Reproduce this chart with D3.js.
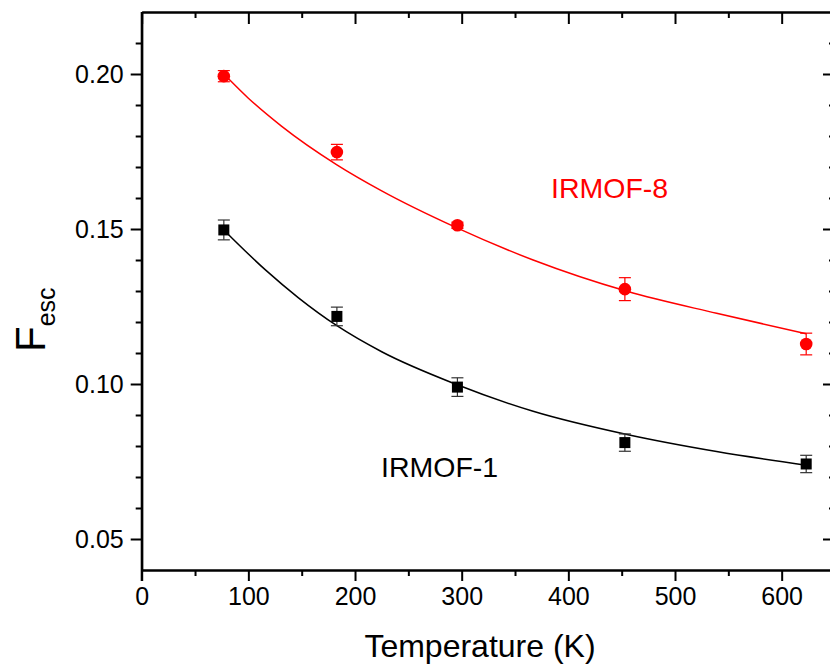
<!DOCTYPE html>
<meta charset="utf-8">
<style>
body { margin: 0; background: #fff; }
svg { font-family: 'Liberation Sans', Arial, sans-serif; }
.axis path, .axis line { stroke: #000; stroke-width: 2px; }
.axis text { font-size: 25px; fill: #000; }
</style>
<svg width="830" height="666"></svg>
<script src="https://d3js.org/d3.v7.min.js"></script>
<script>

// measured points (temperature in K, escape fraction, error)
var temps = [77, 183, 296, 453, 623];
var irmof8 = [0.1993, 0.1748, 0.1512, 0.1306, 0.1129];
var irmof8Err = [0.0018, 0.0025, 0.0010, 0.0037, 0.0035];
var irmof1 = [0.1497, 0.1218, 0.0990, 0.0811, 0.0742];
var irmof1Err = [0.0032, 0.0030, 0.0030, 0.0028, 0.0028];

// fitted curves
var fit8T = [77, 100, 131, 183, 225, 294, 367, 455, 539, 623];
var fit8V = [0.2000, 0.1922, 0.1832, 0.1707, 0.1623, 0.1506, 0.1400, 0.1299, 0.1228, 0.1162];
var fit1T = [77, 116, 147, 183, 225, 294, 367, 455, 539, 623];
var fit1V = [0.1497, 0.1368, 0.1278, 0.1188, 0.1104, 0.1000, 0.0912, 0.0837, 0.0782, 0.0738];

var xMajor = [0, 100, 200, 300, 400, 500, 600];
var xMinor = [50, 150, 250, 350, 450, 550, 650];
var yMajor = [0.05, 0.10, 0.15, 0.20];
var yMinor = [0.06, 0.07, 0.08, 0.09, 0.11, 0.12, 0.13, 0.14, 0.16, 0.17, 0.18, 0.19, 0.21];

var svg = d3.select("svg");

var x = d3.scaleLinear().domain([0, 650]).range([141.7, 835]);
var y = d3.scaleLinear().domain([0.04, 0.22]).range([570, 12]);

var x0 = x.range()[0], x1 = x.range()[1], y0 = y.range()[0], y1 = y.range()[1];

// axes
svg.append("g").attr("class", "axis").attr("transform", "translate(0," + y0 + ")")
  .call(d3.axisBottom(x).tickValues(xMajor).tickSizeInner(11).tickSizeOuter(0).tickPadding(6).tickFormat(d3.format("d")));
svg.append("g").attr("class", "axis").attr("transform", "translate(0," + y0 + ")")
  .call(d3.axisBottom(x).tickValues(xMinor).tickSizeInner(6).tickSizeOuter(0).tickFormat(""));
svg.append("g").attr("class", "axis").attr("transform", "translate(0," + y1 + ")")
  .call(d3.axisTop(x).tickValues(xMajor).tickSizeInner(-12).tickSizeOuter(0).tickFormat(""));
svg.append("g").attr("class", "axis").attr("transform", "translate(0," + y1 + ")")
  .call(d3.axisTop(x).tickValues(xMinor).tickSizeInner(-6).tickSizeOuter(0).tickFormat(""));

svg.append("g").attr("class", "axis").attr("transform", "translate(" + x0 + ",0)")
  .call(d3.axisLeft(y).tickValues(yMajor).tickSizeInner(11).tickSizeOuter(0).tickPadding(7).tickFormat(d3.format(".2f")));
svg.append("g").attr("class", "axis").attr("transform", "translate(" + x0 + ",0)")
  .call(d3.axisLeft(y).tickValues(yMinor).tickSizeInner(6).tickSizeOuter(0).tickFormat(""));
svg.append("g").attr("class", "axis").attr("transform", "translate(" + x1 + ",0)")
  .call(d3.axisRight(y).tickValues(yMajor).tickSizeInner(-12).tickSizeOuter(0).tickFormat(""));
svg.append("g").attr("class", "axis").attr("transform", "translate(" + x1 + ",0)")
  .call(d3.axisRight(y).tickValues(yMinor).tickSizeInner(-6).tickSizeOuter(0).tickFormat(""));

// left axis runs down to the bottom tick
svg.append("line").attr("x1", x0).attr("x2", x0).attr("y1", y1).attr("y2", y0 + 11)
  .attr("stroke", "#000").attr("stroke-width", 2);

// fit lines
var line = d3.line().x(function(d) { return x(d[0]); }).y(function(d) { return y(d[1]); })
  .curve(d3.curveMonotoneX);

svg.append("path").datum(d3.zip(fit8T, fit8V)).attr("d", line)
  .attr("fill", "none").attr("stroke", "#ff0000").attr("stroke-width", 1.5);
svg.append("path").datum(d3.zip(fit1T, fit1V)).attr("d", line)
  .attr("fill", "none").attr("stroke", "#000").attr("stroke-width", 1.5);

function errorBars(vals, errs, color) {
  var g = svg.append("g").attr("stroke", color).attr("stroke-width", 1.2);
  temps.forEach(function(t, i) {
    var cx = x(t), ya = y(vals[i] + errs[i]), yb = y(vals[i] - errs[i]);
    g.append("line").attr("x1", cx).attr("x2", cx).attr("y1", ya).attr("y2", yb);
    g.append("line").attr("x1", cx - 6).attr("x2", cx + 6).attr("y1", ya).attr("y2", ya);
    g.append("line").attr("x1", cx - 6).attr("x2", cx + 6).attr("y1", yb).attr("y2", yb);
  });
}
errorBars(irmof8, irmof8Err, "#ff0000");
errorBars(irmof1, irmof1Err, "#333");

svg.append("g").selectAll("circle").data(d3.zip(temps, irmof8)).join("circle")
  .attr("cx", function(d) { return x(d[0]); })
  .attr("cy", function(d) { return y(d[1]); })
  .attr("r", 6.3).attr("fill", "#ff0000");

svg.append("g").selectAll("rect").data(d3.zip(temps, irmof1)).join("rect")
  .attr("x", function(d) { return x(d[0]) - 5.5; })
  .attr("y", function(d) { return y(d[1]) - 5.5; })
  .attr("width", 11).attr("height", 11).attr("fill", "#000");

// labels
svg.append("text").attr("x", 551).attr("y", 198).attr("fill", "#ff0000")
  .style("font-size", "28.5px").text("IRMOF-8");
svg.append("text").attr("x", 381).attr("y", 477).attr("fill", "#000")
  .style("font-size", "28.5px").text("IRMOF-1");

svg.append("text").attr("x", 480).attr("y", 657).attr("text-anchor", "middle")
  .style("font-size", "32px").text("Temperature (K)");

var yl = svg.append("text").attr("transform", "translate(45,352) rotate(-90)");
yl.append("tspan").style("font-size", "42px").text("F");
yl.append("tspan").attr("dy", 10).style("font-size", "25px").text("esc");

</script>
